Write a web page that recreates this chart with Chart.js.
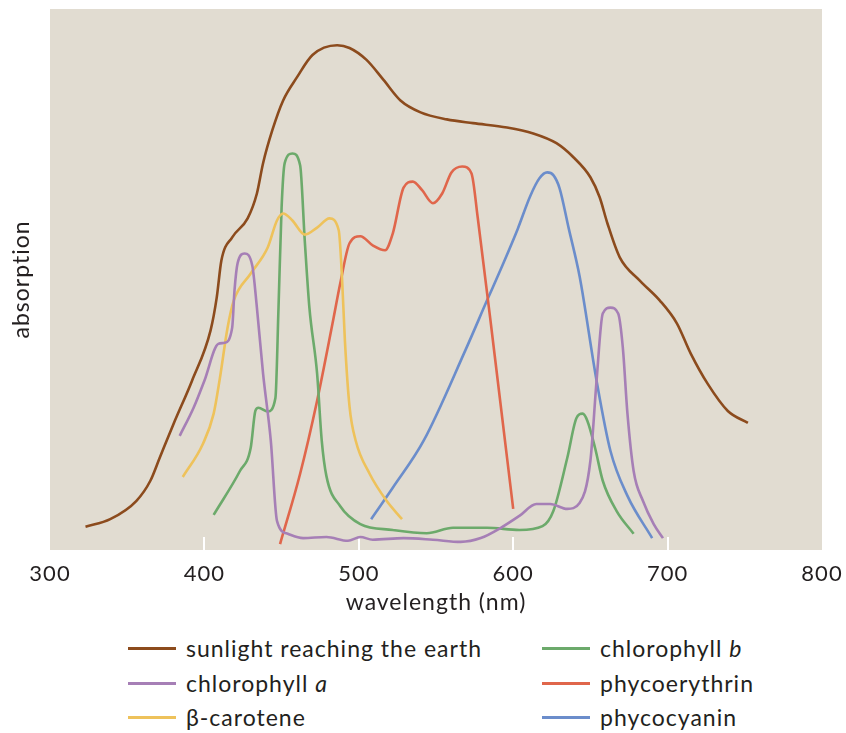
<!DOCTYPE html>
<html>
<head>
<meta charset="utf-8">
<title>Absorption spectra</title>
<script src="https://cdn.jsdelivr.net/npm/chart.js@4.4.0/dist/chart.umd.min.js"></script>
<style>
  body { margin: 0; background: #fff; font-family: Lato, sans-serif; color: #231f20; }
  #wrap { width: 846px; height: 733px; position: relative; }
  #legend .item { position: absolute; font-size: 23px; line-height: 24px; letter-spacing: 1px; white-space: nowrap; }
  #legend .swatch { position: absolute; left: 0; top: 11px; width: 48px; height: 3px; }
  #legend .txt { position: absolute; left: 58px; top: 0; }
</style>
</head>
<body>
<div id="wrap">
  <canvas id="chart" width="846" height="620"></canvas>
  <div id="legend"></div>
</div>
<script>
// wavelength (nm) / relative absorption
var sunlightNm  = [323, 339, 356, 365, 371, 380, 392, 404, 408, 411, 418, 428, 434, 438, 444, 451, 460, 470, 486, 494, 505, 516, 527, 540, 557, 574, 596, 613, 628, 639, 650, 656, 661, 669, 682, 695, 706, 715, 726, 739, 752];
var sunlightAbs = [4.3, 5.7, 9.1, 12.8, 17.0, 23.3, 31.3, 40.6, 46.7, 53.5, 57.8, 61.3, 65.9, 71.5, 77.6, 83.1, 87.4, 91.5, 93.3, 92.8, 90.6, 86.9, 83.1, 80.9, 79.6, 78.9, 78.1, 77.0, 75.2, 72.6, 68.9, 65.2, 60.4, 54.1, 49.8, 46.1, 41.9, 36.3, 30.7, 25.7, 23.5];

var chlANm  = [384, 393, 400, 409, 413, 418, 419.5, 421.5, 426, 431, 434, 438, 443, 447, 454, 464, 479, 493, 501, 509, 529, 548, 566, 579, 592, 604, 615, 624, 635, 643, 650, 654, 658, 663, 668, 671, 674, 678, 684, 691, 697];
var chlAAbs = [21.1, 26.3, 31.3, 38.1, 38.3, 41.1, 48.0, 53.0, 54.8, 52.6, 44.8, 32.6, 20.2, 5.4, 3.0, 2.2, 2.4, 1.7, 2.4, 1.9, 2.2, 1.9, 1.5, 2.2, 4.1, 6.3, 8.5, 8.5, 7.6, 8.7, 16.5, 31.3, 43.7, 44.8, 43.7, 37.4, 25.2, 14.6, 9.1, 4.8, 2.2];

var caroteneNm  = [386, 399, 406, 410, 415, 419, 430, 441, 447, 451, 457, 465, 473, 481, 487, 489, 491, 494, 498, 507, 518, 528];
var caroteneAbs = [13.5, 19.6, 25.2, 31.7, 41.1, 46.1, 51.1, 55.9, 60.9, 62.2, 60.9, 58.3, 59.6, 61.3, 59.1, 51.1, 38.7, 26.5, 20.2, 14.1, 9.1, 5.7];

var chlBNm  = [406, 423, 430, 433, 435, 441, 446, 448, 450, 452, 457, 462, 465, 468, 473, 476, 479, 488, 501, 522, 544, 561, 583, 604, 619, 626, 635, 641, 645, 648, 653, 658, 667, 678];
var chlBAbs = [6.5, 14.6, 18.9, 25.7, 26.3, 25.6, 28.1, 44.8, 63.3, 71.5, 73.3, 71.1, 57.2, 44.8, 32.6, 20.2, 13.7, 8.1, 4.8, 3.7, 3.1, 4.1, 4.1, 3.7, 4.4, 7.2, 17.0, 24.4, 25.2, 23.9, 18.9, 12.8, 7.2, 3.0];

var erythrinNm  = [449, 462, 473, 483, 488, 494, 501, 509, 517, 522, 529, 535, 541, 548, 554, 560, 567, 573, 577, 588, 600];
var erythrinAbs = [1.1, 14.1, 27.6, 41.9, 49.3, 56.7, 58.0, 56.3, 55.4, 58.5, 67.0, 68.1, 66.5, 64.1, 65.9, 69.8, 70.9, 69.6, 61.5, 36.0, 7.6];

var cyaninNm  = [508, 522, 542, 569, 583, 593, 603, 611, 617, 622, 626, 630, 636, 643, 654, 663, 674, 690];
var cyaninAbs = [5.7, 11.5, 20.2, 36.9, 46.1, 52.6, 59.4, 65.4, 68.7, 69.8, 69.3, 66.9, 59.4, 50.6, 31.3, 18.3, 10.0, 2.2];

var seriesNames  = ['sunlight reaching the earth', 'chlorophyll a', '\u03b2-carotene', 'chlorophyll b', 'phycoerythrin', 'phycocyanin'];
var seriesColors = ['#8c4b1d', '#a67fb6', '#eec25b', '#6caa6b', '#e0664b', '#6b8dcb'];
var seriesX = [sunlightNm, chlANm, caroteneNm, chlBNm, erythrinNm, cyaninNm];
var seriesY = [sunlightAbs, chlAAbs, caroteneAbs, chlBAbs, erythrinAbs, cyaninAbs];

var xTicks = [300, 400, 500, 600, 700, 800];
var innerTicks = [400, 500, 600, 700];

var textColor = '#231f20';
var fontFamily = 'Lato, sans-serif';

function pairUp(xs, ys) {
	var out = [];
	for (var i = 0; i < xs.length; i++) {
		out.push({x: xs[i], y: ys[i]});
	}
	return out;
}

var datasets = [];
for (var s = 0; s < seriesNames.length; s++) {
	datasets.push({
		label: seriesNames[s],
		data: pairUp(seriesX[s], seriesY[s]),
		borderColor: seriesColors[s],
		backgroundColor: seriesColors[s],
		borderWidth: 2.6,
		pointRadius: 0,
		cubicInterpolationMode: 'monotone',
		fill: false
	});
}

// beige plot background + short white ticks at the bottom edge
var plotDecor = {
	id: 'plotDecor',
	beforeDraw: function(chart) {
		chart.ctx.letterSpacing = '1px';
	},
	beforeDatasetsDraw: function(chart) {
		var ctx = chart.ctx, area = chart.chartArea, xs = chart.scales.x;
		ctx.save();
		ctx.fillStyle = '#e1dcd1';
		ctx.fillRect(area.left, area.top, area.right - area.left, area.bottom - area.top);
		ctx.strokeStyle = '#ffffff';
		ctx.lineWidth = 2;
		innerTicks.forEach(function(v) {
			var px = Math.round(xs.getPixelForValue(v));
			ctx.beginPath();
			ctx.moveTo(px, area.bottom);
			ctx.lineTo(px, area.bottom - 13);
			ctx.stroke();
		});
		ctx.restore();
	}
};

var chart = new Chart(document.getElementById('chart'), {
	type: 'line',
	data: {datasets: datasets},
	options: {
		responsive: false,
		animation: false,
		events: [],
		layout: {padding: {top: 9, right: 24, bottom: 0, left: 0}},
		plugins: {legend: {display: false}, tooltip: {enabled: false}},
		scales: {
			x: {
				type: 'linear',
				min: 300,
				max: 800,
				afterBuildTicks: function(scale) {
					scale.ticks = xTicks.map(function(v) { return {value: v}; });
				},
				afterFit: function(scale) {
					scale.height = 70;
					scale.paddingLeft = 0;
					scale.paddingRight = 0;
				},
				grid: {display: false, drawTicks: false},
				border: {display: false},
				ticks: {color: textColor, padding: 11, maxRotation: 0, font: {family: fontFamily, size: 22}},
				title: {display: true, text: 'wavelength (nm)', color: textColor, padding: {top: 0, bottom: 4}, font: {family: fontFamily, size: 23}}
			},
			y: {
				min: 0,
				max: 100,
				afterFit: function(scale) { scale.width = 50; },
				grid: {display: false, drawTicks: false},
				border: {display: false},
				ticks: {display: false},
				title: {display: true, text: 'absorption', color: textColor, padding: {top: 8, bottom: 0}, font: {family: fontFamily, size: 23}}
			}
		}
	},
	plugins: [plotDecor]
});

// two-column legend under the chart (column-major order)
var legendCols = [128, 542];
var legendRows = [636, 671, 705];
var legendEl = document.getElementById('legend');
chart.data.datasets.forEach(function(ds, i) {
	var col = Math.floor(i / 3), row = i % 3;
	var item = document.createElement('div');
	item.className = 'item';
	item.style.left = legendCols[col] + 'px';
	item.style.top = legendRows[row] + 'px';
	var sw = document.createElement('span');
	sw.className = 'swatch';
	sw.style.background = ds.borderColor;
	var txt = document.createElement('span');
	txt.className = 'txt';
	var m = ds.label.match(/^(chlorophyll )(\w)$/);
	if (m) {
		txt.appendChild(document.createTextNode(m[1]));
		var it = document.createElement('i');
		it.textContent = m[2];
		txt.appendChild(it);
	} else {
		txt.textContent = ds.label;
	}
	item.appendChild(sw);
	item.appendChild(txt);
	legendEl.appendChild(item);
});
</script>
</body>
</html>
